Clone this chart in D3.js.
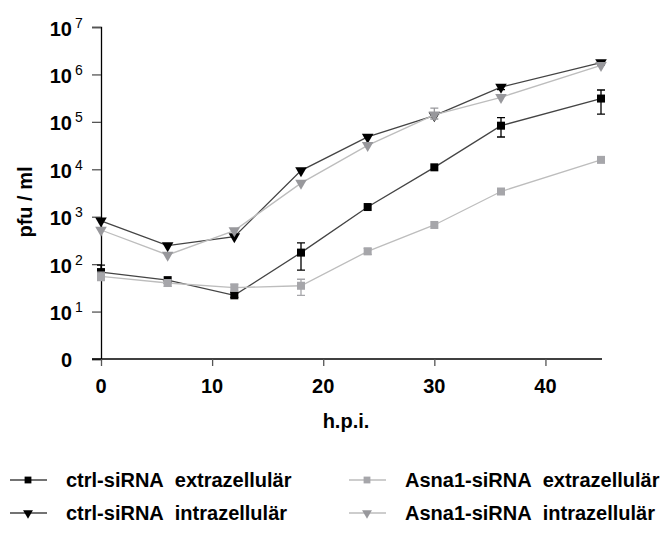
<!DOCTYPE html>
<html>
<head>
<meta charset="utf-8">
<script src="https://cdn.jsdelivr.net/npm/d3@7"></script>
<style>
  body { margin: 0; background: #fff; }
  text { font-family: "Liberation Sans", Arial, sans-serif; font-weight: bold; fill: #000; }
</style>
</head>
<body>
<svg width="671" height="533"></svg>
<script>
// time points (h.p.i.)
var hours = [0, 6, 12, 18, 24, 30, 36, 45];

// pfu / ml per series
var ctrlExtra = [68, 46, 22, 175, 1600, 11000, 83000, 310000];
var ctrlIntra = [820, 245, 380, 9400, 48000, 135000, 540000, 1780000];
var asnaExtra = [55, 40, 32, 35, 186, 670, 3400, 15800];
var asnaIntra = [525, 156, 510, 5100, 32000, 140000, 330000, 1550000];

// error bars [low, high], null = none drawn
var ctrlExtraErr = [[50, 95], null, [20, 25], [75, 280], null, null, [48000, 123000], [145000, 470000]];
var ctrlIntraErr = [null, null, null, null, null, null, [480000, 590000], [1600000, 1950000]];
var asnaExtraErr = [[45, 68], [34, 47], [27, 38], [22, 48], [160, 215], null, null, null];
var asnaIntraErr = [null, null, null, null, null, [115000, 195000], null, null];

var yTicks = [1, 10, 100, 1000, 1e4, 1e5, 1e6, 1e7];
var xTicks = [0, 10, 20, 30, 40];

var series = [
  { name: ["ctrl-siRNA", "extrazellulär"], values: ctrlExtra, err: ctrlExtraErr, shape: "square", fill: "#000", line: "#444", errColor: "#000" },
  { name: ["ctrl-siRNA", "intrazellulär"], values: ctrlIntra, err: ctrlIntraErr, shape: "tri", fill: "#000", line: "#444", errColor: "#000" },
  { name: ["Asna1-siRNA", "extrazellulär"], values: asnaExtra, err: asnaExtraErr, shape: "square", fill: "#a6a6aa", line: "#bdbdbd", errColor: "#a6a6aa" },
  { name: ["Asna1-siRNA", "intrazellulär"], values: asnaIntra, err: asnaIntraErr, shape: "tri", fill: "#98989c", line: "#bdbdbd", errColor: "#98989c" }
];

var svg = d3.select("svg");

var x = d3.scaleLinear().domain([0, 45]).range([101, 601]);
var y = d3.scaleLog().domain([1, 1e7]).range([359, 27]);

// y axis
var yAxis = svg.append("g")
  .attr("transform", "translate(101,0)")
  .call(d3.axisLeft(y).tickValues(yTicks).tickSize(9).tickFormat(""));
yAxis.select(".domain").attr("stroke", "#000").attr("stroke-width", 1.3);
yAxis.selectAll(".tick line").attr("stroke", "#555").attr("stroke-width", 1.3);

yTicks.forEach(function(v) {
  if (v === 1) {
    svg.append("text")
      .attr("x", 72).attr("y", y(v) + 8)
      .attr("text-anchor", "end")
      .attr("font-size", 20)
      .text("0");
  } else {
    svg.append("text")
      .attr("x", 72).attr("y", y(v) + 8.5)
      .attr("text-anchor", "end")
      .attr("font-size", 20)
      .text("10");
    svg.append("text")
      .attr("x", 75).attr("y", y(v) + 0.5)
      .attr("font-size", 14)
      .style("font-weight", "normal")
      .text(Math.round(Math.log10(v)));
  }
});

// x axis
var xAxis = svg.append("g")
  .attr("transform", "translate(0,359)")
  .call(d3.axisBottom(x).tickValues(xTicks).tickSize(7).tickFormat(""));
xAxis.select(".domain").attr("stroke", "#000").attr("stroke-width", 1.3).attr("d", "M92,0H602");
xAxis.selectAll(".tick line").attr("stroke", "#555").attr("stroke-width", 1.3);

xTicks.forEach(function(v) {
  svg.append("text")
    .attr("x", x(v))
    .attr("y", 393)
    .attr("text-anchor", "middle")
    .attr("font-size", 20)
    .text(v);
});

svg.append("text")
  .attr("x", 346)
  .attr("y", 428)
  .attr("text-anchor", "middle")
  .attr("font-size", 20)
  .text("h.p.i.");

svg.append("text")
  .attr("transform", "translate(32,202) rotate(-90)")
  .attr("text-anchor", "middle")
  .attr("font-size", 20)
  .text("pfu / ml");

var line = d3.line()
  .x(function(d) { return x(d[0]); })
  .y(function(d) { return y(d[1]); });

function drawMarker(g, shape, cx, cy, fill, scale) {
  scale = scale || 1;
  if (shape === "square") {
    var s = 8 * scale;
    g.append("rect")
      .attr("x", cx - s / 2).attr("y", cy - s / 2)
      .attr("width", s).attr("height", s)
      .attr("fill", fill);
  } else {
    g.append("path")
      .attr("d", d3.symbol().type(d3.symbolTriangle).size(58 * scale * scale)())
      .attr("transform", "translate(" + cx + "," + cy + ") rotate(180)")
      .attr("fill", fill);
  }
}

series.forEach(function(s) {
  var g = svg.append("g");
  var pts = hours.map(function(h, i) { return [h, s.values[i]]; });

  g.append("path")
    .datum(pts)
    .attr("d", line)
    .attr("fill", "none")
    .attr("stroke", s.line)
    .attr("stroke-width", 1.3);

  s.err.forEach(function(e, i) {
    if (!e) return;
    var cx = x(hours[i]);
    g.append("path")
      .attr("d", "M" + cx + "," + y(e[0]) + "V" + y(e[1]) +
        "M" + (cx - 4) + "," + y(e[0]) + "H" + (cx + 4) +
        "M" + (cx - 4) + "," + y(e[1]) + "H" + (cx + 4))
      .attr("stroke", s.errColor)
      .attr("stroke-width", 1.3)
      .attr("fill", "none");
  });

  pts.forEach(function(p) {
    drawMarker(g, s.shape, x(p[0]), y(p[1]), s.fill);
  });
});

// legend
var legendPos = [[10, 480], [10, 513], [349, 480], [349, 513]];
series.forEach(function(s, i) {
  var lx = legendPos[i][0], ly = legendPos[i][1];
  var g = svg.append("g");
  g.append("line")
    .attr("x1", lx).attr("x2", lx + 37)
    .attr("y1", ly).attr("y2", ly)
    .attr("stroke", s.line).attr("stroke-width", 1.3);
  drawMarker(g, s.shape, lx + 18, ly, s.fill, 0.85);
  var t = g.append("text")
    .attr("x", lx + 56)
    .attr("y", ly + 6.5)
    .attr("font-size", 20);
  t.append("tspan").text(s.name[0]);
  t.append("tspan").attr("dx", 11).text(s.name[1]);
});
</script>
</body>
</html>
